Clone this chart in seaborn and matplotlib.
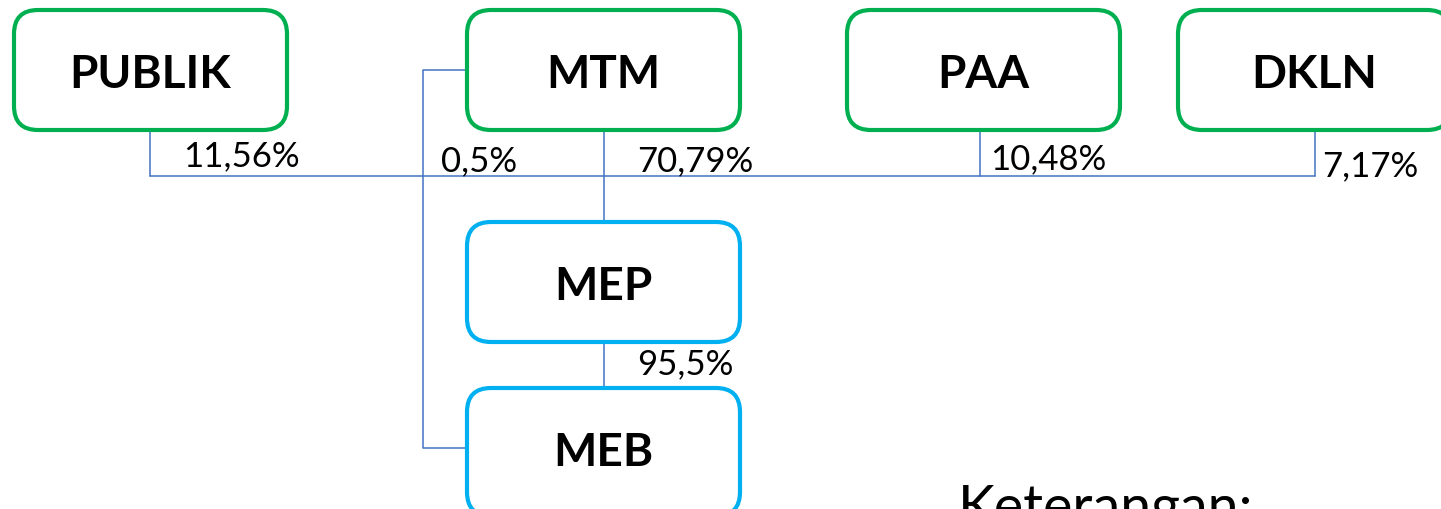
import matplotlib
matplotlib.use("Agg")
import matplotlib.pyplot as plt
from matplotlib.patches import FancyBboxPatch
import seaborn as sns

# shareholders (top row) and their stake in the holding line
owners = ["PUBLIK", "MTM", "PAA", "DKLN"]
owner_shares = ["11,56%", "70,79%", "10,48%", "7,17%"]
# subsidiaries (below MTM)
subsidiaries = ["MEP", "MEB"]
mep_to_meb = "95,5%"
mtm_to_meb = "0,5%"
note_title = "Keterangan:"

green = "#00B050"
cyan = "#00B0F0"
line_blue = "#4472C4"

sns.set_theme(style="white")
plt.rcParams["font.family"] = ["Lato", "DejaVu Sans"]

W, H = 1441, 509
fig = plt.figure(figsize=(W / 100, H / 100), dpi=100)
ax = fig.add_axes([0, 0, 1, 1])
ax.set_xlim(0, W)
ax.set_ylim(H, 0)
ax.axis("off")

box_w, box_h = 273, 120
owner_x = [14, 467, 847, 1178]
owner_y = 10
sub_x = 467
sub_y = [222, 388]


def draw_box(x, y, label, color, h=box_h):
    ax.add_patch(FancyBboxPatch((x, y), box_w, h,
                                boxstyle="round,pad=0,rounding_size=24",
                                fc="white", ec=color, lw=3.0, zorder=3))
    ax.text(x + box_w / 2, y + box_h / 2 + 5, label, ha="center", va="center",
            fontsize=33, fontweight="bold", color="black", zorder=4)


lw = 1.1
bus_y = 176
drops = [150, 604, 980, 1315]

# horizontal holding bus
ax.plot([drops[0], drops[-1]], [bus_y, bus_y], color=line_blue, lw=lw, zorder=1)
for i, dx in enumerate(drops):
    if owners[i] == "MTM":
        ax.plot([dx, dx], [owner_y + box_h, sub_y[0]], color=line_blue, lw=lw, zorder=1)
    else:
        ax.plot([dx, dx], [owner_y + box_h, bus_y], color=line_blue, lw=lw, zorder=1)

# MEP -> MEB
ax.plot([604, 604], [sub_y[0] + box_h, sub_y[1]], color=line_blue, lw=lw, zorder=1)
# MTM -> MEB bracket
ax.plot([467, 423, 423, 467], [70, 70, 448, 448], color=line_blue, lw=lw, zorder=1)

for x, name in zip(owner_x, owners):
    draw_box(x, owner_y, name, green)
draw_box(sub_x, sub_y[0], subsidiaries[0], cyan)
# MEB runs just past the bottom edge in the original
draw_box(sub_x, sub_y[1], subsidiaries[1], cyan, h=128)

share_pos = [(183, 156), (637, 161), (990, 159), (1322, 166)]
for (tx, ty), s in zip(share_pos, owner_shares):
    ax.text(tx, ty, s, ha="left", va="center", fontsize=25, color="black", zorder=5)
ax.text(441, 161, mtm_to_meb, ha="left", va="center", fontsize=25, color="black", zorder=5)
ax.text(637, 364, mep_to_meb, ha="left", va="center", fontsize=25, color="black", zorder=5)

ax.text(958, 484, note_title, ha="left", va="top", fontsize=40, color="black")

fig.savefig("out.png", dpi=100)
